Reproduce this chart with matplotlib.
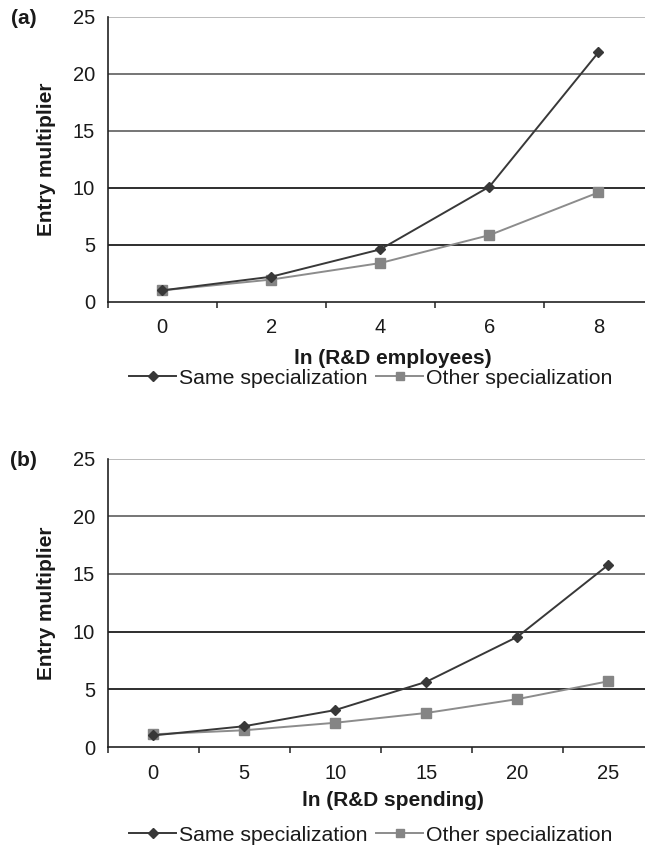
import matplotlib
matplotlib.use("Agg")
import matplotlib.pyplot as plt
from matplotlib.lines import Line2D

plt.rcParams['font.family'] = ['Liberation Sans', 'DejaVu Sans']

# Panel (a): entry multiplier against ln(R&D employees)
emp_labels = ["0", "2", "4", "6", "8"]
emp_same = [1.0, 2.2, 4.6, 10.1, 21.9]
emp_other = [1.0, 1.95, 3.4, 5.85, 9.6]

# Panel (b): entry multiplier against ln(R&D spending)
spend_labels = ["0", "5", "10", "15", "20", "25"]
spend_same = [1.0, 1.8, 3.2, 5.65, 9.55, 15.8]
spend_other = [1.1, 1.45, 2.1, 2.95, 4.15, 5.7]

y_ticks = [0, 5, 10, 15, 20, 25]
series_names = ["Same specialization", "Other specialization"]

W, H = 645, 847
fig = plt.figure(figsize=(W / 100, H / 100), dpi=100)

SAME_C = "#383838"
OTHER_C = "#8c8c8c"
TXT = "#1a1a1a"
grid_colors = {5: "#1e1e1e", 10: "#1e1e1e", 15: "#6a6a6a", 20: "#6a6a6a", 25: "#a8a8a8"}

TICK_FS = 14.5
LABEL_FS = 15
LEG_FS = 15.3


def px_axes(x0, x1, ytop, ybot):
    return fig.add_axes([x0 / W, 1 - ybot / H, (x1 - x0) / W, (ybot - ytop) / H])


def draw_panel(ax, labels, same, other, xlabel, tag, ytop, ybot, xlab_y, leg_y):
    n = len(labels)
    xs = list(range(n))
    ax.set_xlim(-0.5, n - 0.5)
    ax.set_ylim(0, 25)
    for v in y_ticks[1:]:
        ax.axhline(v, color=grid_colors[v], lw=1.3 if v < 25 else 1.1, zorder=1)
    ax.plot(xs, other, color=OTHER_C, lw=1.4, marker="s", ms=6.5,
            mfc="#858585", mec="#858585", zorder=3)
    ax.plot(xs, same, color=SAME_C, lw=1.4, marker="D", ms=5.5,
            mfc=SAME_C, mec=SAME_C, zorder=4)

    for s in ("top", "right"):
        ax.spines[s].set_visible(False)
    for s in ("left", "bottom"):
        ax.spines[s].set_color("#222222")
        ax.spines[s].set_linewidth(1.2)

    ax.set_yticks(y_ticks)
    ax.set_yticklabels([str(v) for v in y_ticks], fontsize=TICK_FS, color=TXT)
    ax.tick_params(axis="y", length=0, pad=9)

    ax.set_xticks(xs)
    ax.set_xticklabels(labels, fontsize=TICK_FS, color=TXT)
    ax.tick_params(axis="x", which="major", length=0, pad=12)
    ax.set_xticks([i - 0.5 for i in range(n + 1)], minor=True)
    ax.tick_params(axis="x", which="minor", length=4, width=1.1,
                   color="#222222", direction="out")

    fig.text(393 / W, 1 - xlab_y / H, xlabel, ha="center", va="center",
             fontsize=LABEL_FS, fontweight="bold", color=TXT)
    fig.text(46.5 / W, 1 - ((ytop + ybot) / 2) / H, "Entry multiplier",
             rotation=90, ha="center", va="center",
             fontsize=LABEL_FS, fontweight="bold", color=TXT)
    fig.text(23.5 / W, 1 - (ytop + 2) / H, tag, ha="center", va="center",
             fontsize=LABEL_FS, fontweight="bold", color=TXT)

    handles = [
        Line2D([], [], color=SAME_C, lw=1.4, marker="D", ms=5, mfc=SAME_C, mec=SAME_C),
        Line2D([], [], color=OTHER_C, lw=1.4, marker="s", ms=6, mfc="#858585", mec="#858585"),
    ]
    fig.legend(handles, series_names, loc="center", ncol=2, frameon=False,
               bbox_to_anchor=(371 / W, 1 - leg_y / H), fontsize=LEG_FS,
               handlelength=2.2, handletextpad=0.15, columnspacing=0.4,
               labelcolor=TXT)


ax_a = px_axes(107.5, 653, 17, 301.8)
draw_panel(ax_a, emp_labels, emp_same, emp_other, "ln (R&D employees)", "(a)",
           17, 301.8, 358, 378)

ax_b = px_axes(107.5, 654, 458.6, 747)
draw_panel(ax_b, spend_labels, spend_same, spend_other, "ln (R&D spending)", "(b)",
           458.6, 747, 800, 835)

fig.savefig("out.png", dpi=100, facecolor="white")
